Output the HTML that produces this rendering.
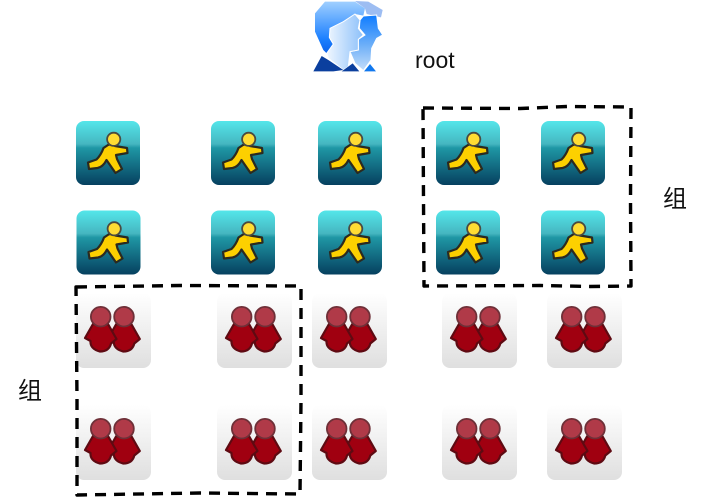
<!DOCTYPE html>
<html>
<head>
<meta charset="utf-8">
<style>
html,body{margin:0;padding:0;background:#fff;width:707px;height:498px;overflow:hidden}
svg{display:block}
text{font-family:"Liberation Sans","Noto Sans CJK SC",sans-serif;fill:#111}
</style>
</head>
<body>
<svg width="707" height="498" viewBox="0 0 707 498" xmlns="http://www.w3.org/2000/svg">
<defs>
<linearGradient id="aimBg" x1="0" y1="0" x2="0" y2="1">
<stop offset="0" stop-color="#54e6ea"/>
<stop offset=".36" stop-color="#45b6c0"/>
<stop offset=".42" stop-color="#1f97a5"/>
<stop offset="1" stop-color="#06405f"/>
</linearGradient>
<linearGradient id="redBg" x1="0" y1="0" x2="0" y2="1">
<stop offset="0" stop-color="#ffffff"/>
<stop offset="1" stop-color="#dfdfdf"/>
</linearGradient>
<linearGradient id="b1" x1="0" y1="0" x2="0" y2="1">
<stop offset="0" stop-color="#9fcfff"/>
<stop offset=".7" stop-color="#1c80ff"/>
<stop offset="1" stop-color="#0a5fe8"/>
</linearGradient>
<linearGradient id="b2" x1="0" y1="0" x2="1" y2="0">
<stop offset="0" stop-color="#f0f7ff"/>
<stop offset="1" stop-color="#8cc0fa"/>
</linearGradient>
<linearGradient id="b3" x1="0" y1="0" x2="0" y2="1">
<stop offset="0" stop-color="#0f7cff"/>
<stop offset=".55" stop-color="#6fb0f8"/>
<stop offset="1" stop-color="#c5defa"/>
</linearGradient>
<symbol id="aim" width="64" height="64" viewBox="0 0 64 64" overflow="visible">
<rect x="0" y="0" width="64" height="64" rx="8" fill="url(#aimBg)"/>
<path d="M32 24Q36 22.500 39 25L51 27L51.500 32L40 34L41 38L46 48L39.500 52L30.500 39Q27 46 21.500 47L13 48L12 41.500L20.500 38.500Q25 34 27.500 27Z" fill="#fdd000" stroke="#2b2a20" stroke-width="2.200" stroke-linejoin="round"/>
<circle cx="37.700" cy="18.300" r="6.600" fill="#ffdc33" stroke="#4a4a40" stroke-width="1.800"/>
</symbol>
<symbol id="red" width="75" height="75" viewBox="0 0 75 75" overflow="visible">
<rect x="0" y="0" width="75" height="75" rx="8" fill="url(#redBg)"/>
<path transform="translate(23.300 0)" d="M17 31L9 45L14.500 48Q14 56 24 58.500Q33 58.500 35 50.500L40.500 46L32 31Q25 34 17 31Z" fill="#a00010" stroke="#5e0a12" stroke-width="2.200" stroke-linejoin="round"/>
<path d="M17 31L9 45L14.500 48Q14 56 24 58.500Q33 58.500 35 50.500L40.500 46L32 31Q25 34 17 31Z" fill="#a00010" stroke="#5e0a12" stroke-width="2.200" stroke-linejoin="round"/>
<circle cx="24.700" cy="23.700" r="9.800" fill="#b03a48" stroke="#6e3038" stroke-width="1.800"/>
<circle cx="48" cy="23.700" r="9.800" fill="#b03a48" stroke="#6e3038" stroke-width="1.800"/>
</symbol>
</defs>

<!-- root icon -->
<g transform="translate(300 0) scale(.3333)">
<path d="M165 3L205 5L248 30L243 52L200 42L195 25Z" fill="#9dbdf2"/>
<path d="M45 40L75 5L165 5L195 25L190 47L165 42L130 65L90 85L88 115L100 135L85 165L70 150L45 95Z" fill="url(#b1)"/>
<path d="M190 48L230 45L235 85L248 105L230 115L215 145L213 180L190 212L165 190L150 155L175 150L175 118L195 105L178 85L180 60Z" fill="url(#b3)" stroke="#fff" stroke-width="3"/>
<path d="M90 85L130 65L165 42L180 60L175 85L190 105L175 118L175 150L150 155L145 200L130 210L85 175L80 160L100 132L88 112Z" fill="url(#b2)" stroke="#fff" stroke-width="3"/>
<path d="M40 214L65 168L85 180L130 210L100 214Z" fill="#0b3f9e"/>
<path d="M125 214L158 190L178 214Z" fill="#0b3f9e"/>
<path d="M192 214L210 192L228 214Z" fill="#1178ee"/>
</g>
<text x="415" y="68" font-size="23">root</text>

<!-- AIM icons -->
<use href="#aim" x="76" y="121"/>
<use href="#aim" x="211" y="121"/>
<use href="#aim" x="318" y="121"/>
<use href="#aim" x="436" y="121"/>
<use href="#aim" x="541" y="121"/>
<use href="#aim" x="76.500" y="210.500"/>
<use href="#aim" x="211" y="210.500"/>
<use href="#aim" x="318" y="210.500"/>
<use href="#aim" x="436" y="210.500"/>
<use href="#aim" x="541" y="210.500"/>

<!-- Red icons -->
<use href="#red" x="76" y="293"/>
<use href="#red" x="217" y="293"/>
<use href="#red" x="312" y="293"/>
<use href="#red" x="442" y="293"/>
<use href="#red" x="547" y="293"/>
<use href="#red" x="76" y="405"/>
<use href="#red" x="217" y="405"/>
<use href="#red" x="312" y="405"/>
<use href="#red" x="442" y="405"/>
<use href="#red" x="547" y="405"/>

<!-- Dashed groups -->
<path d="M423 108L520 108.500L567 106.500L631 107L630.500 200L631 286L590 286.500L540 285.500L424 286L423.500 200Z" fill="none" stroke="#000" stroke-width="3.400" stroke-dasharray="11 8" stroke-linejoin="round"/>
<path d="M76 287L180 285.500L301 286L301 400L300 494L200 493L77 495L77 400Z" fill="none" stroke="#000" stroke-width="3.400" stroke-dasharray="11 8" stroke-linejoin="round"/>

<text x="663" y="207" font-size="24">组</text>
<text x="18" y="399" font-size="24">组</text>
</svg>
</body>
</html>
